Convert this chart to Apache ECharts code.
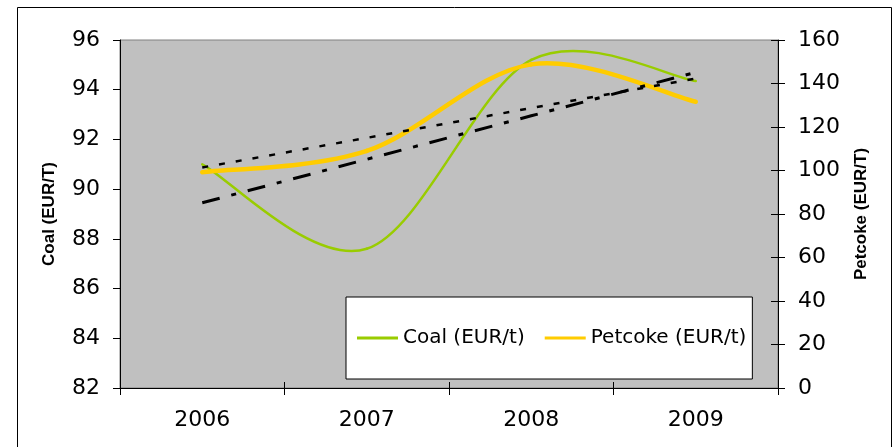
<!DOCTYPE html>
<html>
<head>
<meta charset="utf-8">
<script src="https://cdn.jsdelivr.net/npm/echarts@6/dist/echarts.min.js"></script>
<style>
  html, body { margin: 0; padding: 0; background: #fff; }
  #chart { width: 895px; height: 447px; }
</style>
</head>
<body>
<div id="chart"></div>
<script>
// ---- data ----
const years = ['2006', '2007', '2008', '2009'];
const coal = [91.0, 87.6, 95.2, 94.35];            // EUR/t, left axis
const petcoke = [99.2, 109.0, 148.8, 131.6];       // EUR/t, right axis
const coalTrend = [89.45, 91.2, 92.95, 94.7];      // linear trend (dash-dot), left axis
const petcokeTrend = [101.4, 115.0, 128.7, 142.3]; // linear trend (dotted), right axis
const coalTicks = { min: 82, max: 96, step: 2 };
const petcokeTicks = { min: 0, max: 160, step: 20 };

const chart = echarts.init(document.getElementById('chart'), null, { renderer: 'canvas' });

// Excel-like smoothed line: cubic Bezier segments through the data points,
// positioned with the library's own coordinate system (api.coord).
function smoothRenderer(values, color, width) {
  return function (params, api) {
    const n = values.length;
    const i = params.dataIndex;
    if (i >= n - 1) return null;
    const P = function (j) {
      const k = Math.max(0, Math.min(n - 1, j));
      return api.coord([k, values[k]]);
    };
    const p0 = P(i - 1), p1 = P(i), p2 = P(i + 1), p3 = P(i + 2);
    return {
      type: 'bezierCurve',
      shape: {
        x1: p1[0], y1: p1[1],
        cpx1: p1[0] + (p2[0] - p0[0]) / 6, cpy1: p1[1] + (p2[1] - p0[1]) / 6,
        cpx2: p2[0] - (p3[0] - p1[0]) / 6, cpy2: p2[1] - (p3[1] - p1[1]) / 6,
        x2: p2[0], y2: p2[1]
      },
      style: { stroke: color, lineWidth: width, fill: null, lineCap: 'round' }
    };
  };
}

const labelFont = { fontFamily: 'DejaVu Sans', fontSize: 22, color: '#000' };
const nameFont = { fontFamily: 'Liberation Sans', fontWeight: 'bold', fontSize: 17, color: '#000' };
const black = { color: '#000', width: 1 };

const option = {
  animation: false,
  backgroundColor: '#fff',
  graphic: [{
    type: 'rect', z: -10, silent: true,
    shape: { x: 17.5, y: 7.5, width: 874, height: 470 },
    style: { fill: 'none', stroke: '#000', lineWidth: 1 }
  }],
  grid: [
    { left: 120, top: 40, width: 658, height: 348, show: true,
      backgroundColor: '#C0C0C0', borderColor: '#808080', borderWidth: 1 },
    { left: 120, top: 40, width: 658, height: 348, show: false }
  ],
  legend: {
    data: [
      { name: 'Coal (EUR/t)', icon: 'rect', itemStyle: { color: '#99CC00' } },
      { name: 'Petcoke (EUR/t)', icon: 'rect', itemStyle: { color: '#FFCC00' } }
    ],
    left: 346, top: 297,
    orient: 'horizontal',
    itemWidth: 41, itemHeight: 3, itemGap: 20,
    padding: [31, 6, 31, 11],
    backgroundColor: '#fff', borderColor: '#000', borderWidth: 1, borderRadius: 0,
    textStyle: { fontFamily: 'DejaVu Sans', fontSize: 20, color: '#000', padding: [0, 0, 0, 0] },
    selectedMode: false
  },
  xAxis: [
    {
      type: 'category', data: years, gridIndex: 0, position: 'bottom',
      boundaryGap: true,
      axisLine: { show: true, lineStyle: black },
      axisTick: { show: true, length: 7, lineStyle: black, alignWithLabel: false },
      axisLabel: Object.assign({ margin: 21 }, labelFont),
      splitLine: { show: false }
    },
    {
      type: 'category', data: years, gridIndex: 1, position: 'bottom',
      boundaryGap: true,
      axisLine: { show: false },
      axisTick: { show: true, inside: true, length: 6, lineStyle: black },
      axisLabel: { show: false },
      splitLine: { show: false }
    }
  ],
  yAxis: [
    {
      type: 'value', gridIndex: 0, position: 'left',
      min: coalTicks.min, max: coalTicks.max, interval: coalTicks.step,
      name: 'Coal (EUR/T)', nameLocation: 'middle', nameRotate: 90, nameGap: 62,
      nameTextStyle: nameFont,
      axisLine: { show: true, lineStyle: black },
      axisTick: { show: true, length: 7, lineStyle: black },
      axisLabel: Object.assign({ margin: 20 }, labelFont),
      splitLine: { show: false }
    },
    {
      type: 'value', gridIndex: 0, position: 'right',
      min: petcokeTicks.min, max: petcokeTicks.max, interval: petcokeTicks.step,
      name: 'Petcoke (EUR/T)', nameLocation: 'middle', nameRotate: 90, nameGap: 75,
      nameTextStyle: nameFont,
      axisLine: { show: true, lineStyle: black },
      axisTick: { show: true, length: 7, lineStyle: black },
      axisLabel: Object.assign({ margin: 20 }, labelFont),
      splitLine: { show: false }
    },
    {
      type: 'value', gridIndex: 1, position: 'right',
      min: petcokeTicks.min, max: petcokeTicks.max, interval: petcokeTicks.step,
      axisLine: { show: false },
      axisTick: { show: true, inside: true, length: 7, lineStyle: black },
      axisLabel: { show: false },
      splitLine: { show: false }
    }
  ],
  series: [
    {
      name: 'Coal (EUR/t)', type: 'custom', xAxisIndex: 0, yAxisIndex: 0,
      data: coal.map((v, i) => [i, v]),
      encode: { x: 0, y: 1 },
      itemStyle: { color: '#99CC00' },
      renderItem: smoothRenderer(coal, '#99CC00', 2.5),
      z: 2
    },
    {
      name: 'Petcoke (EUR/t)', type: 'custom', xAxisIndex: 0, yAxisIndex: 1,
      data: petcoke.map((v, i) => [i, v]),
      encode: { x: 0, y: 1 },
      itemStyle: { color: '#FFCC00' },
      renderItem: smoothRenderer(petcoke, '#FFCC00', 4.5),
      z: 3
    },
    {
      name: 'Coal trend', type: 'line', xAxisIndex: 0, yAxisIndex: 0,
      data: coalTrend, showSymbol: false, symbol: 'none', smooth: false,
      lineStyle: { color: '#000', width: 3, type: [18, 12, 5, 12] },
      z: 4
    },
    {
      name: 'Petcoke trend', type: 'line', xAxisIndex: 0, yAxisIndex: 1,
      data: petcokeTrend, showSymbol: false, symbol: 'none', smooth: false,
      lineStyle: { color: '#000', width: 2.5, type: [6, 11] },
      z: 4
    }
  ]
};
chart.setOption(option);
</script>
</body>
</html>
